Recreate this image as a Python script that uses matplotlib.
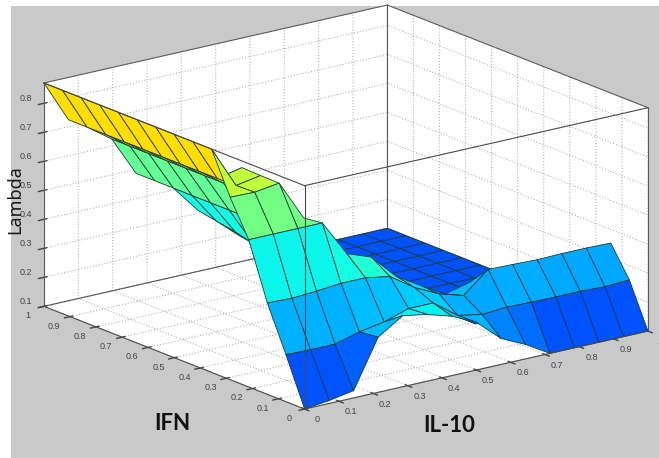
import numpy as np
import matplotlib
matplotlib.use("Agg")
import matplotlib.pyplot as plt
from matplotlib.patches import Rectangle
from mpl_toolkits.mplot3d.art3d import Poly3DCollection

nan = np.nan

# grid of the surface, 15 x 15 points
il10 = np.linspace(0, 1, 15)
ifn = np.linspace(0, 1, 15)

# lambda values, one row per IFN step, nan where the surface has no data
row00 = [.100, .110, .125, .290, .345, .330, .305, .265, .190, .150, .100, .100, .100, .100, .100]
row01 = [.262, .260, .260, .283, .298, .325, .325, .263, .247, .253, .251, .250, .250, .247, .251]
row02 = [.415, .412, .417, .425, .425, .410, .353, .312, .287, .358, .356, .353, .355, .355, .353]
row03 = [.608, .608, .608, .608, .483, .452, .367, .316, .267, .288, nan, nan, nan, nan, nan]
row04 = [.729, .727, .739, .600, nan, nan, nan, nan, nan, nan, .100, .100, .100, .100, .100]
row05 = [.870, .725, .740, nan, nan, nan, nan, nan, nan, nan, .100, .100, .100, .100, .100]
row06 = [.870, .724, .742, nan, nan, nan, nan, nan, nan, nan, .100, .100, .100, .100, .100]
row07 = [.870, .724, .664, .526, .380, .300, .220, nan, nan, nan, .100, .100, .100, .100, .100]
row08 = [.870, .724, .664, .526, .390, .320, .260, nan, nan, nan, .100, .100, .100, .100, .100]
row09 = [.870, .724, .664, .526, .407, .335, .290, nan, nan, nan, .100, .100, .100, .100, .100]
row10 = [.870, .724, .664, .526, .418, .345, nan, nan, nan, nan, .100, .100, .100, .100, .100]
row11 = [.870, .724, .664, .526, .430, nan, nan, nan, nan, nan, .100, .100, .100, .100, .100]
row12 = [.870, .724, .664, .526, nan, nan, nan, nan, nan, nan, .100, .100, .100, .100, .100]
row13 = [.870, .724, .664, .526, nan, nan, nan, nan, nan, nan, .100, .100, .100, .100, .100]
row14 = [.870, .724, nan, nan, nan, nan, nan, nan, nan, nan, .100, .100, .100, .100, .100]

# the folded strips and the fold in the hump are coloured differently than they sit
strip2_colour = .58
strip3_colour = .43
sliver_colour = .28
hill_colour = .46
fold_colour = .41

# colour position in jet for a lambda value
colour_z = [.100, .262, .415, .608, .725, .870]
colour_t = [.205, .300, .365, .490, .580, .672]

ticks = [0, .1, .2, .3, .4, .5, .6, .7, .8, .9, 1]
tick_labels = ["0", "0.1", "0.2", "0.3", "0.4", "0.5", "0.6", "0.7", "0.8", "0.9", "1"]
zticks = [.1, .2, .3, .4, .5, .6, .7, .8]
zlabels = ["0.1", "0.2", "0.3", "0.4", "0.5", "0.6", "0.7", "0.8"]

plt.rcParams["grid.linestyle"] = ":"
plt.rcParams["grid.color"] = "#b4b4b4"
plt.rcParams["grid.linewidth"] = 0.8
plt.rcParams["font.family"] = ["Liberation Sans", "DejaVu Sans"]

Z = np.array([row00, row01, row02, row03, row04, row05, row06, row07,
              row08, row09, row10, row11, row12, row13, row14])
C = Z.copy()
C[7:, 2] = strip2_colour
C[7:, 3] = strip3_colour
C[8:10, 4] = sliver_colour
C[2, 4:6] = hill_colour
C[0, 4:6] = fold_colour

fig = plt.figure(figsize=(6.59, 4.58), dpi=100, facecolor="white")
fig.add_artist(Rectangle((11 / 659, 0), 648 / 659, 452 / 458, transform=fig.transFigure,
                         facecolor="#c9c9c9", edgecolor="none", zorder=-5))

ax = fig.add_axes([20.4 / 659, -74.6 / 458, 634 / 659, 634 / 458], projection="3d", proj_type="ortho")
ax.set_facecolor("none")
ax.view_init(elev=17.4, azim=232.8)
ax.set_box_aspect((431, 431, 234))
ax.computed_zorder = False

# one flat coloured quad per cell, coloured from its first corner like matlab does
polys = []
cols = []
for j in range(14):
    for i in range(14):
        cell = [Z[j, i], Z[j, i + 1], Z[j + 1, i + 1], Z[j + 1, i]]
        if np.isnan(cell).any():
            continue
        polys.append([(il10[i], ifn[j], cell[0]), (il10[i + 1], ifn[j], cell[1]),
                      (il10[i + 1], ifn[j + 1], cell[2]), (il10[i], ifn[j + 1], cell[3])])
        cols.append(plt.cm.jet(np.interp(C[j, i], colour_z, colour_t)))
surf = Poly3DCollection(polys, facecolors=cols, edgecolors="#1f3a3a", linewidths=0.6, zorder=2)
ax.add_collection3d(surf)

ax.set_xlim(0, 1)
ax.set_ylim(0, 1)
ax.set_zlim(.1, .87)
ax.set_xticks(ticks, tick_labels)
ax.set_yticks(ticks, tick_labels)
ax.set_zticks(zticks, zlabels)
ax.tick_params(labelsize=6.5, colors="#444444", pad=3)
ax.tick_params(axis="z", pad=-1)
for t in ax.get_xticklabels() + ax.get_yticklabels() + ax.get_zticklabels():
    t.set_va("bottom")

for axis in (ax.xaxis, ax.yaxis, ax.zaxis):
    axis.set_pane_color("white")
    axis.pane.set_edgecolor("none")
    axis.line.set_color((0, 0, 0, 0))
    axis._axinfo["tick"]["linewidth"] = {True: 1.0, False: 0.5}
    axis._axinfo["tick"]["color"] = "#444444"

# box edges, the ones behind the surface first
lo, hi = .1, .87
back = [((0, 1), (1, 1), (lo, lo)), ((1, 1), (0, 1), (lo, lo)), ((1, 1), (1, 1), (lo, hi)),
        ((0, 1), (1, 1), (hi, hi)), ((1, 1), (0, 1), (hi, hi)), ((0, 0), (1, 1), (lo, hi)),
        ((1, 1), (0, 0), (lo, hi))]
front = [((0, 1), (0, 0), (lo, lo)), ((0, 0), (0, 1), (lo, lo)), ((0, 0), (0, 0), (lo, hi)),
         ((0, 1), (0, 0), (hi, hi)), ((0, 0), (0, 1), (hi, hi))]
for xs, ys, zs in back:
    ax.plot(xs, ys, zs, color="#5a5a5a", lw=0.8, zorder=1)
for xs, ys, zs in front:
    ax.plot(xs, ys, zs, color="#4a4a4a", lw=0.8, zorder=3)

fig.text(15 / 659, 1 - 200 / 458, "Lambda", rotation=90, fontsize=13, fontweight="bold",
         family="Noto Sans", color="#1a1a1a", ha="center", va="center")
fig.text(172 / 659, 1 - 424 / 458, "IFN", fontsize=16, fontweight="bold", family="Lato",
         color="#111111", ha="center", va="center")
fig.text(449 / 659, 1 - 426 / 458, "IL-10", fontsize=16, fontweight="bold", family="Lato",
         color="#111111", ha="center", va="center")

fig.savefig("out.png", dpi=100, facecolor=fig.get_facecolor())
